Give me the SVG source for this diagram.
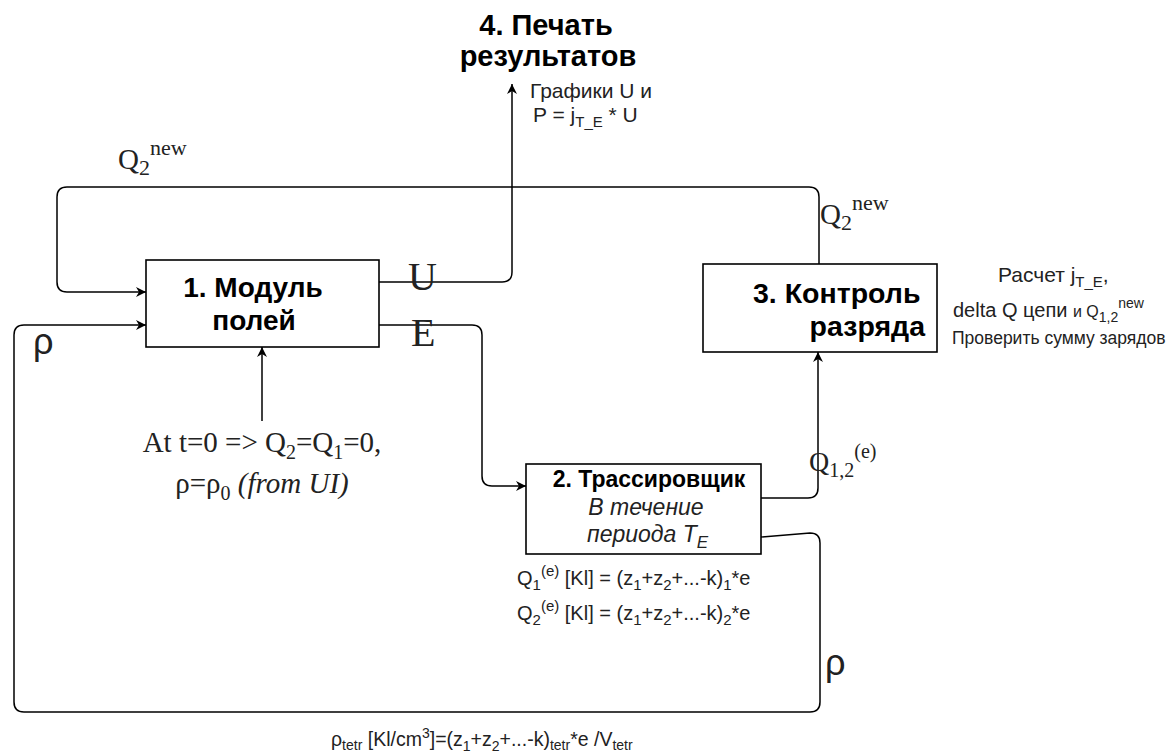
<svg xmlns="http://www.w3.org/2000/svg" width="1168" height="755" viewBox="0 0 1168 755">
<style>
.box{fill:#fff;stroke:#000;stroke-width:1.6}
.ln{fill:none;stroke:#000;stroke-width:1.5}
.b{font-family:"Liberation Sans",Arial,sans-serif;font-weight:bold;fill:#000}
.s{font-family:"Liberation Sans",Arial,sans-serif;fill:#222}
.r{font-family:"Liberation Serif","Times New Roman",serif;fill:#222}
.i{font-style:italic}
</style>
<defs>
<marker id="ar" viewBox="0 0 10 10" refX="10" refY="5" markerWidth="10" markerHeight="10" markerUnits="userSpaceOnUse" orient="auto">
<path d="M0,0 L10,5 L0,10 L3,5 z" fill="#000"/>
</marker>
</defs>
<rect width="1168" height="755" fill="#fff"/>
<g id="connectors">
<path class="ln" d="M819,264 V197 Q819,187 809,187 H67 Q57,187 57,197 V282 Q57,292 67,292 H146" marker-end="url(#ar)"/>
<path class="ln" d="M379,282 H502 Q512,282 512,272 V84" marker-end="url(#ar)"/>
<path class="ln" d="M379,325 H472 Q482,325 482,335 V476 Q482,486 492,486 H526" marker-end="url(#ar)"/>
<path class="ln" d="M761,537 L810,533 Q820,533 820,543 V702 Q820,712 810,712 H24 Q14,712 14,702 V335 Q14,325 24,325 H146" marker-end="url(#ar)"/>
<path class="ln" d="M761,498 H808 Q818,498 818,488 V352" marker-end="url(#ar)"/>
<path class="ln" d="M262,421 V347" marker-end="url(#ar)"/>
</g>
<g id="node1">
<rect class="box" x="146" y="260" width="233" height="87"/>
<text class="b" font-size="28" text-anchor="middle" x="253" y="297">1. Модуль</text>
<text class="b" font-size="28" text-anchor="middle" x="254" y="330">полей</text>
</g>
<g id="node2">
<rect class="box" x="526" y="464" width="235" height="90"/>
<text class="b" font-size="23" text-anchor="middle" x="649" y="487">2. Трассировщик</text>
<text class="s i" font-size="23" text-anchor="middle" x="646" y="515">В течение</text>
<text class="s i" font-size="23" x="587" y="542">периода T<tspan font-size="17" dy="6">E</tspan></text>
</g>
<g id="node3">
<rect class="box" x="703" y="264" width="234" height="88"/>
<text class="b" font-size="28.5" x="753" y="303">3. Контроль</text>
<text class="b" font-size="28.5" text-anchor="end" x="925" y="336">разряда</text>
</g>
<g id="node4">
<text class="b" font-size="29" text-anchor="middle" x="546" y="35">4. Печать</text>
<text class="b" font-size="29" text-anchor="middle" x="548" y="66">результатов</text>
</g>
<g id="labels">
<text class="s" font-size="21" text-anchor="middle" x="591" y="98">Графики U и</text>
<text class="s" font-size="21" x="533" y="122">P = j<tspan font-size="15" dy="5">T_E</tspan><tspan dy="-5"> * U</tspan></text>
<text class="r" font-size="29" x="118" y="169">Q<tspan font-size="22" dy="6">2</tspan><tspan font-size="22" dy="-20">new</tspan></text>
<text class="r" font-size="29" x="820" y="224">Q<tspan font-size="22" dy="6">2</tspan><tspan font-size="22" dy="-20">new</tspan></text>
<text class="r" font-size="40" x="408" y="290">U</text>
<text class="r" font-size="40" x="411" y="346">E</text>
<text class="s" font-size="36" x="33" y="354">ρ</text>
<text class="s" font-size="36" x="825" y="675">ρ</text>
<text class="r" font-size="29" text-anchor="middle" x="262" y="452">At t=0 =&gt; Q<tspan font-size="20" dy="7">2</tspan><tspan dy="-7">=Q</tspan><tspan font-size="20" dy="7">1</tspan><tspan dy="-7">=0,</tspan></text>
<text class="r" font-size="29" text-anchor="middle" x="262" y="493">ρ=ρ<tspan font-size="20" dy="7">0</tspan><tspan dy="-7" class="i"> (from UI)</tspan></text>
<text class="r" font-size="28" x="809" y="471">Q<tspan font-size="20" dy="6">1,2</tspan><tspan font-size="20" dy="-19">(e)</tspan></text>
<text class="s" font-size="21" x="998" y="282">Расчет j<tspan font-size="15" dy="5">T_E</tspan><tspan dy="-5">,</tspan></text>
<text class="s" font-size="20" x="953" y="317">delta Q цепи <tspan font-size="16">и Q</tspan><tspan font-size="14" dy="5">1,2</tspan><tspan font-size="14" dy="-14">new</tspan></text>
<text class="s" font-size="17.5" x="952" y="344">Проверить сумму зарядов</text>
<text class="s" font-size="20" x="517" y="585">Q<tspan font-size="15" dy="5">1</tspan><tspan font-size="15" dy="-14">(e)</tspan><tspan dy="9"> [Kl] = (z</tspan><tspan font-size="15" dy="5">1</tspan><tspan dy="-5">+z</tspan><tspan font-size="15" dy="5">2</tspan><tspan dy="-5">+...-k)</tspan><tspan font-size="15" dy="5">1</tspan><tspan dy="-5">*e</tspan></text>
<text class="s" font-size="20" x="517" y="620">Q<tspan font-size="15" dy="5">2</tspan><tspan font-size="15" dy="-14">(e)</tspan><tspan dy="9"> [Kl] = (z</tspan><tspan font-size="15" dy="5">1</tspan><tspan dy="-5">+z</tspan><tspan font-size="15" dy="5">2</tspan><tspan dy="-5">+...-k)</tspan><tspan font-size="15" dy="5">2</tspan><tspan dy="-5">*e</tspan></text>
<text class="s" font-size="19.5" x="331" y="746">ρ<tspan font-size="14" dy="4">tetr</tspan><tspan dy="-4"> [Kl/cm</tspan><tspan font-size="14" dy="-8">3</tspan><tspan dy="8">]=(z</tspan><tspan font-size="14" dy="5">1</tspan><tspan dy="-5">+z</tspan><tspan font-size="14" dy="5">2</tspan><tspan dy="-5">+...-k)</tspan><tspan font-size="14" dy="4">tetr</tspan><tspan dy="-4">*e /V</tspan><tspan font-size="14" dy="4">tetr</tspan></text>
</g>
</svg>
